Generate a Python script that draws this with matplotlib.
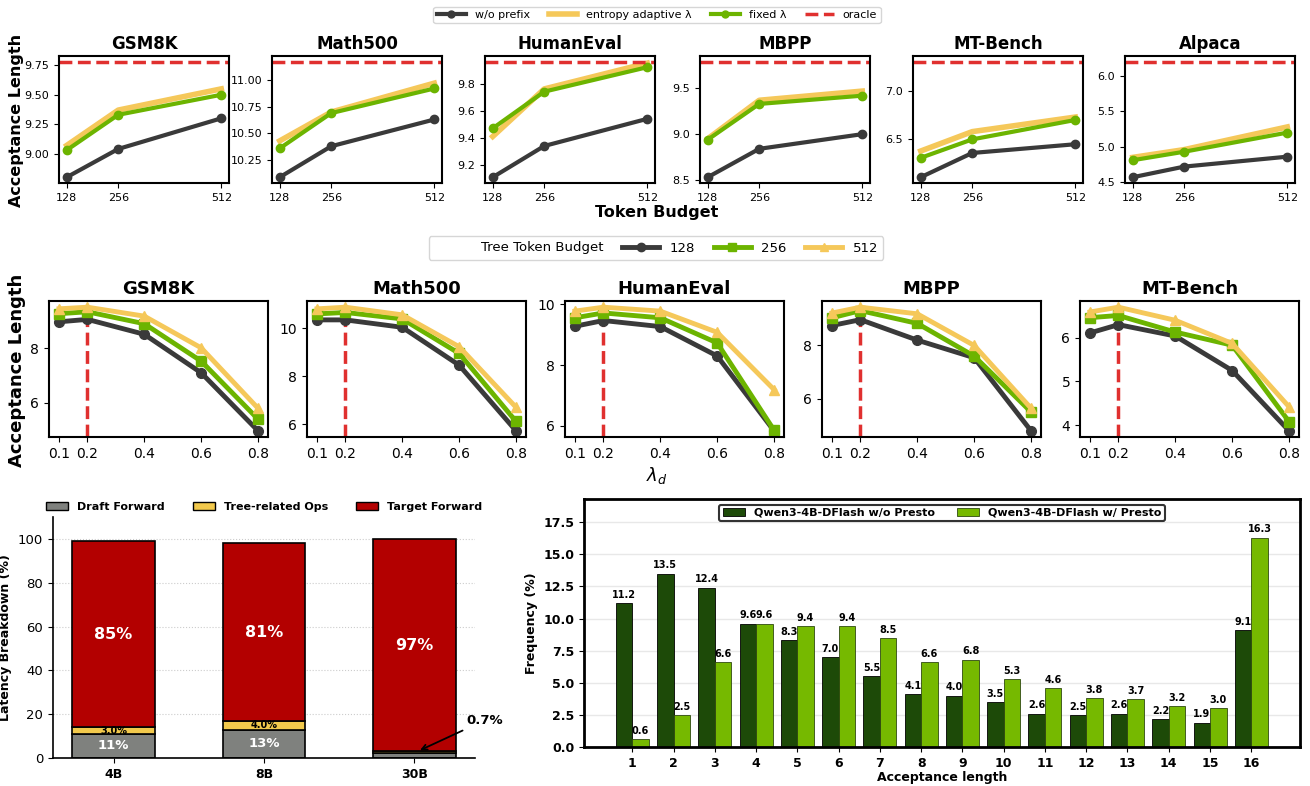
import matplotlib
matplotlib.use('Agg')
import matplotlib.pyplot as plt
from matplotlib.lines import Line2D
from matplotlib.patches import Patch

W, H = 1310, 786

# --- top row: acceptance length vs token budget
budgets = [128, 256, 512]
top_names = ['GSM8K', 'Math500', 'HumanEval', 'MBPP', 'MT-Bench', 'Alpaca']
no_prefix = [[8.80, 9.04, 9.30], [10.09, 10.38, 10.63], [9.11, 9.34, 9.54],
             [8.53, 8.84, 9.00], [6.11, 6.36, 6.45], [4.57, 4.72, 4.86]]
entropy = [[9.07, 9.37, 9.55], [10.43, 10.70, 10.97], [9.41, 9.76, 9.95],
           [8.95, 9.37, 9.47], [6.38, 6.58, 6.73], [4.85, 4.96, 5.28]]
fixed = [[9.03, 9.33, 9.50], [10.36, 10.69, 10.92], [9.47, 9.74, 9.92],
         [8.94, 9.33, 9.42], [6.31, 6.50, 6.70], [4.81, 4.93, 5.20]]
oracle = [9.78, 11.17, 9.96, 9.79, 7.30, 6.20]
top_yticks = [[9.00, 9.25, 9.50, 9.75], [10.25, 10.50, 10.75, 11.00], [9.2, 9.4, 9.6, 9.8],
              [8.5, 9.0, 9.5], [6.5, 7.0], [4.5, 5.0, 5.5, 6.0]]

# --- middle row: acceptance length vs lambda_d
lambdas = [0.1, 0.2, 0.4, 0.6, 0.8]
mid_names = ['GSM8K', 'Math500', 'HumanEval', 'MBPP', 'MT-Bench']
acc_128 = [[8.98, 9.07, 8.52, 7.10, 4.96], [10.35, 10.35, 10.04, 8.46, 5.72],
           [9.28, 9.47, 9.27, 8.30, 5.83], [8.75, 8.97, 8.20, 7.54, 4.79],
           [6.11, 6.30, 6.04, 5.25, 3.87]]
acc_256 = [[9.28, 9.35, 8.91, 7.53, 5.39], [10.60, 10.66, 10.39, 8.95, 6.11],
           [9.56, 9.72, 9.56, 8.73, 5.85], [9.04, 9.31, 8.83, 7.60, 5.50],
           [6.46, 6.51, 6.13, 5.83, 4.08]]
acc_512 = [[9.46, 9.52, 9.19, 8.02, 5.79], [10.81, 10.88, 10.56, 9.23, 6.70],
           [9.78, 9.91, 9.78, 9.08, 7.19], [9.22, 9.44, 9.19, 8.00, 5.64],
           [6.59, 6.70, 6.40, 5.87, 4.42]]
mid_yticks = [[6, 8], [6, 8, 10], [6, 8, 10], [6, 8], [4, 5, 6]]
best_lambda = 0.2

# --- bottom left: latency breakdown
models = ['4B', '8B', '30B']
draft = [11, 13, 2.3]
tree = [3.0, 4.0, 0.7]
target = [85, 81, 97]
draft_labels = ['11%', '13%', '']
tree_labels = ['3.0%', '4.0%', '']
target_labels = ['85%', '81%', '97%']

# --- bottom right: acceptance length histogram
acc_len = list(range(1, 17))
wo_presto = [11.2, 13.5, 12.4, 9.6, 8.3, 7.0, 5.5, 4.1, 4.0, 3.5, 2.6, 2.5, 2.6, 2.2, 1.9, 9.1]
w_presto = [0.6, 2.5, 6.6, 9.6, 9.4, 9.4, 8.5, 6.6, 6.8, 5.3, 4.6, 3.8, 3.7, 3.2, 3.0, 16.3]

DARK = '#3a3a3a'
GREEN = '#6cb400'
YELLOW = '#f5c85a'
RED = '#e0302f'


def rect(l, t, r, b):
    return [l / W, 1 - b / H, (r - l) / W, (b - t) / H]


fig = plt.figure(figsize=(W / 100, H / 100), dpi=100)

# top row
top_lefts = [59, 272, 485, 700, 913, 1125]
for i, name in enumerate(top_names):
    ax = fig.add_axes(rect(top_lefts[i], 56, top_lefts[i] + 170, 183))
    ax.plot(budgets, no_prefix[i], color=DARK, lw=3, marker='o', ms=6)
    ax.plot(budgets, entropy[i], color=YELLOW, lw=4)
    ax.plot(budgets, fixed[i], color=GREEN, lw=3, marker='o', ms=6)
    ax.axhline(oracle[i], color=RED, lw=2.5, ls='--')
    ax.set_ylim(min(no_prefix[i]) - 0.05 * (oracle[i] - min(no_prefix[i])),
                oracle[i] + 0.05 * (oracle[i] - min(no_prefix[i])))
    ax.set_xticks(budgets)
    ax.set_yticks(top_yticks[i])
    ax.tick_params(labelsize=8)
    ax.set_title(name, fontsize=12, fontweight='bold', pad=5)
    for s in ax.spines.values():
        s.set_linewidth(1.5)

top_handles = [Line2D([], [], color=DARK, lw=3, marker='o', ms=5),
               Line2D([], [], color=YELLOW, lw=4),
               Line2D([], [], color=GREEN, lw=3, marker='o', ms=5),
               Line2D([], [], color=RED, lw=2.5, ls='--')]
fig.legend(top_handles, ['w/o prefix', 'entropy adaptive λ', 'fixed λ', 'oracle'],
           loc='center', bbox_to_anchor=(657 / W, 1 - 15 / H), ncol=4, fontsize=8,
           frameon=True, edgecolor='#cccccc', handlelength=2.6, columnspacing=1.7,
           borderpad=0.3)
fig.text(657 / W, 1 - 213 / H, 'Token Budget', ha='center', va='center',
         fontsize=11.5, fontweight='bold')
fig.text(17 / W, 1 - 120 / H, 'Acceptance Length', ha='center', va='center',
         rotation=90, fontsize=11.5, fontweight='bold')

# middle row
mid_lefts = [49, 307, 565, 822, 1080]
for i, name in enumerate(mid_names):
    ax = fig.add_axes(rect(mid_lefts[i], 301, mid_lefts[i] + 219, 437))
    ax.plot(lambdas, acc_128[i], color=DARK, lw=3.5, marker='o', ms=7)
    ax.plot(lambdas, acc_256[i], color=GREEN, lw=3.5, marker='s', ms=7)
    ax.plot(lambdas, acc_512[i], color=YELLOW, lw=3.5, marker='^', ms=7)
    ylim = ax.get_ylim()
    ax.plot([best_lambda, best_lambda], [ylim[0], acc_128[i][lambdas.index(best_lambda)]],
            color=RED, lw=2.5, ls='--', zorder=1)
    ax.set_ylim(ylim)
    ax.set_xticks(lambdas)
    ax.set_yticks(mid_yticks[i])
    ax.tick_params(labelsize=10)
    ax.set_title(name, fontsize=13, fontweight='bold', pad=5)
    for s in ax.spines.values():
        s.set_linewidth(1.5)

mid_handles = [Line2D([], [], color='none'),
               Line2D([], [], color=DARK, lw=3.5, marker='o', ms=6),
               Line2D([], [], color=GREEN, lw=3.5, marker='s', ms=6),
               Line2D([], [], color=YELLOW, lw=3.5, marker='^', ms=6)]
fig.legend(mid_handles, ['Tree Token Budget', '128', '256', '512'],
           loc='center', bbox_to_anchor=(656 / W, 1 - 248 / H), ncol=4, fontsize=9.5,
           frameon=True, edgecolor='#cccccc', handlelength=2.8, columnspacing=1.4,
           borderpad=0.4)
fig.text(657 / W, 1 - 476 / H, r'$\lambda_d$', ha='center', va='center', fontsize=13)
fig.text(17 / W, 1 - 370 / H, 'Acceptance Length', ha='center', va='center',
         rotation=90, fontsize=13, fontweight='bold')

# bottom left
ax = fig.add_axes(rect(53, 517, 475, 758))
xs = range(len(models))
c_draft, c_tree, c_target = '#7f817e', '#f2c94c', '#b30000'
bottoms2 = [d + t for d, t in zip(draft, tree)]
ax.bar(xs, draft, 0.55, color=c_draft, edgecolor='black', lw=1.2)
ax.bar(xs, tree, 0.55, bottom=draft, color=c_tree, edgecolor='black', lw=1.2)
ax.bar(xs, target, 0.55, bottom=bottoms2, color=c_target, edgecolor='black', lw=1.2)
for i in xs:
    if draft_labels[i]:
        ax.text(i, draft[i] / 2, draft_labels[i], ha='center', va='center',
                color='white', fontsize=9.5, fontweight='bold')
    if tree_labels[i]:
        ax.text(i, draft[i] + tree[i] / 2, tree_labels[i], ha='center', va='center',
                color='black', fontsize=7, fontweight='bold')
    ax.text(i, bottoms2[i] + target[i] / 2, target_labels[i], ha='center', va='center',
            color='white', fontsize=11.5, fontweight='bold')
ax.annotate('0.7%', xy=(2.02, bottoms2[2]), xytext=(2.47, 17.3), ha='center', va='center',
            fontsize=9.5, fontweight='bold', annotation_clip=False,
            arrowprops=dict(arrowstyle='->', color='black', lw=1.3))
ax.set_ylim(0, 110)
ax.set_xticks(list(xs))
ax.set_xticklabels(models, fontsize=9, fontweight='bold')
ax.set_yticks([0, 20, 40, 60, 80, 100])
ax.tick_params(axis='y', labelsize=9.5)
ax.set_ylabel('Latency Breakdown (%)', fontsize=9, fontweight='bold')
ax.yaxis.grid(True, ls=':', color='#cccccc')
ax.set_axisbelow(True)
ax.spines['top'].set_visible(False)
ax.spines['right'].set_visible(False)
ax.spines['left'].set_linewidth(1.2)
ax.spines['bottom'].set_linewidth(1.2)
ax.legend([Patch(fc=c_draft, ec='black'), Patch(fc=c_tree, ec='black'),
           Patch(fc=c_target, ec='black')],
          ['Draft Forward', 'Tree-related Ops', 'Target Forward'],
          loc='lower center', bbox_to_anchor=(0.5, 0.98), ncol=3, frameon=False,
          prop={'weight': 'bold', 'size': 8}, columnspacing=2.5)

# bottom right
ax = fig.add_axes(rect(584, 499, 1300, 747))
bw = 0.4
xl = [x - bw / 2 for x in acc_len]
xr = [x + bw / 2 for x in acc_len]
ax.bar(xl, wo_presto, bw, color='#1d4a08', edgecolor='black', lw=0.6,
       label='Qwen3-4B-DFlash w/o Presto')
ax.bar(xr, w_presto, bw, color='#76b900', edgecolor='#2f4a10', lw=0.6,
       label='Qwen3-4B-DFlash w/ Presto')
for x, v in zip(xl, wo_presto):
    ax.text(x, v + 0.25, f'{v:.1f}', ha='center', va='bottom', fontsize=7, fontweight='bold')
for x, v in zip(xr, w_presto):
    ax.text(x, v + 0.25, f'{v:.1f}', ha='center', va='bottom', fontsize=7, fontweight='bold')
ax.set_xlim(-0.17, 17.18)
ax.set_ylim(0, 19.3)
ax.set_xticks(acc_len)
ax.set_yticks([0, 2.5, 5, 7.5, 10, 12.5, 15, 17.5])
ax.set_yticklabels(['0.0', '2.5', '5.0', '7.5', '10.0', '12.5', '15.0', '17.5'])
for lab in ax.get_xticklabels() + ax.get_yticklabels():
    lab.set_fontweight('bold')
    lab.set_fontsize(9)
ax.set_xlabel('Acceptance length', fontsize=9, fontweight='bold', labelpad=1)
ax.set_ylabel('Frequency (%)', fontsize=9, fontweight='bold')
ax.yaxis.grid(True, color='#e8e8e8', lw=1)
ax.set_axisbelow(True)
for s in ax.spines.values():
    s.set_linewidth(2)
leg = ax.legend(loc='upper center', ncol=2, prop={'weight': 'bold', 'size': 8},
                frameon=True, edgecolor='black', fancybox=True, borderpad=0.3)
leg.get_frame().set_linewidth(1.5)

fig.savefig('out.png', dpi=100)
